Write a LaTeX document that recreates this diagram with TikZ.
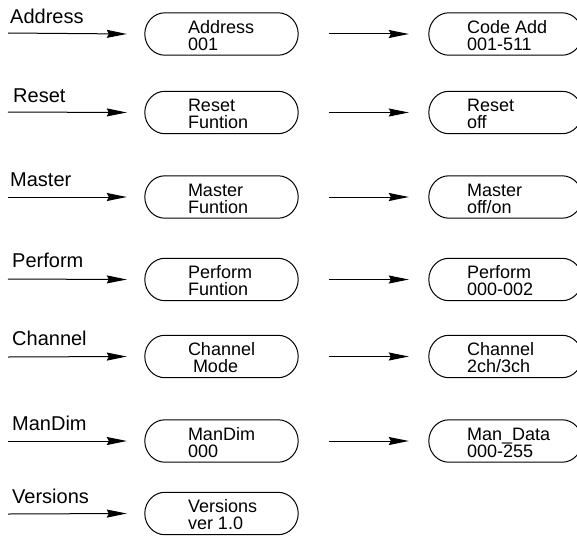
\documentclass[tikz,border=0pt]{standalone}
\usepackage{fontspec}
\setmainfont{Liberation Sans}
\usetikzlibrary{arrows.meta}
\newcommand\stadium[1]{%
  \draw[outline] ([xshift=20pt]#1.north west) -- ([xshift=-20pt]#1.north east)
    .. controls ([xshift=-9pt]#1.north east) and ([yshift=11.6pt]#1.east) .. (#1.east)
    .. controls ([yshift=-11.6pt]#1.east) and ([xshift=-9pt]#1.south east) .. ([xshift=-20pt]#1.south east)
    -- ([xshift=20pt]#1.south west)
    .. controls ([xshift=9pt]#1.south west) and ([yshift=-11.6pt]#1.west) .. (#1.west)
    .. controls ([yshift=11.6pt]#1.west) and ([xshift=9pt]#1.north west) .. ([xshift=20pt]#1.north west) -- cycle;}
\begin{document}
\begin{tikzpicture}[x=1pt,y=-1pt,
  lbl/.style={anchor=base west, inner sep=0pt, font=\fontsize{20}{22}\selectfont},
  btxt/.style={anchor=base west, inner sep=0pt, align=left, font=\fontsize{18}{17}\selectfont},
  box/.style={minimum width=153pt, minimum height=42pt, inner sep=0pt},
  arr/.style={line width=1pt, -{Stealth[length=20pt,width=8pt,inset=2pt]}},
  outline/.style={line width=1pt}]
\clip (0,0) rectangle (577,535);
% row 1
\coordinate (s1) at (8,33);
\node[lbl] (l1) at (10,24) {Address};
\node[box] (b1) at (221.5,34) {};
\node[box] (c1) at (505.5,34) {};
\node[btxt] (t1) at ([xshift=43pt,yshift=-16pt]b1.west) {Address\\001};
\node[btxt] (u1) at ([xshift=38pt,yshift=-16pt]c1.west) {Code Add\\001-511};
% row 2
\coordinate (s2) at (8,112);
\node[lbl] (l2) at (13,102) {Reset};
\node[box] (b2) at (221.5,112.5) {};
\node[box] (c2) at (505.5,112.5) {};
\node[btxt] (t2) at ([xshift=43pt,yshift=-16pt]b2.west) {Reset\\Funtion};
\node[btxt] (u2) at ([xshift=38pt,yshift=-16pt]c2.west) {Reset\\off};
% row 3
\coordinate (s3) at (8,197);
\node[lbl] (l3) at (10,186) {Master};
\node[box] (b3) at (221.5,197) {};
\node[box] (c3) at (505.5,197) {};
\node[btxt] (t3) at ([xshift=43pt,yshift=-16pt]b3.west) {Master\\Funtion};
\node[btxt] (u3) at ([xshift=38pt,yshift=-16pt]c3.west) {Master\\off/on};
% row 4
\coordinate (s4) at (8,279);
\node[lbl] (l4) at (12,267) {Perform};
\node[box] (b4) at (221.5,279.5) {};
\node[box] (c4) at (505.5,279.5) {};
\node[btxt] (t4) at ([xshift=43pt,yshift=-16pt]b4.west) {Perform\\Funtion};
\node[btxt] (u4) at ([xshift=38pt,yshift=-16pt]c4.west) {Perform\\000-002};
% row 5
\coordinate (s5) at (8,357);
\node[lbl] (l5) at (12,345) {Channel};
\node[box] (b5) at (221.5,356.5) {};
\node[box] (c5) at (505.5,356.5) {};
\node[btxt] (t5) at ([xshift=43pt,yshift=-16pt]b5.west) {Channel\\\hspace{5pt}Mode};
\node[btxt] (u5) at ([xshift=38pt,yshift=-16pt]c5.west) {Channel\\2ch/3ch};
% row 6
\coordinate (s6) at (8,441);
\node[lbl] (l6) at (12,430) {ManDim};
\node[box] (b6) at (221.5,441) {};
\node[box] (c6) at (505.5,441) {};
\node[btxt] (t6) at ([xshift=43pt,yshift=-16pt]b6.west) {ManDim\\000};
\node[btxt] (u6) at ([xshift=38pt,yshift=-16pt]c6.west) {Man\_Data\\000-255};
% row 7
\coordinate (s7) at (8,514);
\node[lbl] (l7) at (12,503) {Versions};
\node[box] (b7) at (221.5,513.5) {};
\node[btxt] (t7) at ([xshift=43pt,yshift=-16pt]b7.west) {Versions\\ver 1.0};
% outlines
\foreach \n in {b1,b2,b3,b4,b5,b6,b7,c1,c2,c3,c4,c5,c6}{\stadium{\n}}
% arrows
\foreach \i in {1,...,7}{\draw[arr] (s\i) -- ([xshift=-18pt]b\i.west);}
\foreach \i in {1,...,6}{\draw[arr] ([xshift=31pt]b\i.east) -- ([xshift=-20pt]c\i.west);}
\end{tikzpicture}
\end{document}
